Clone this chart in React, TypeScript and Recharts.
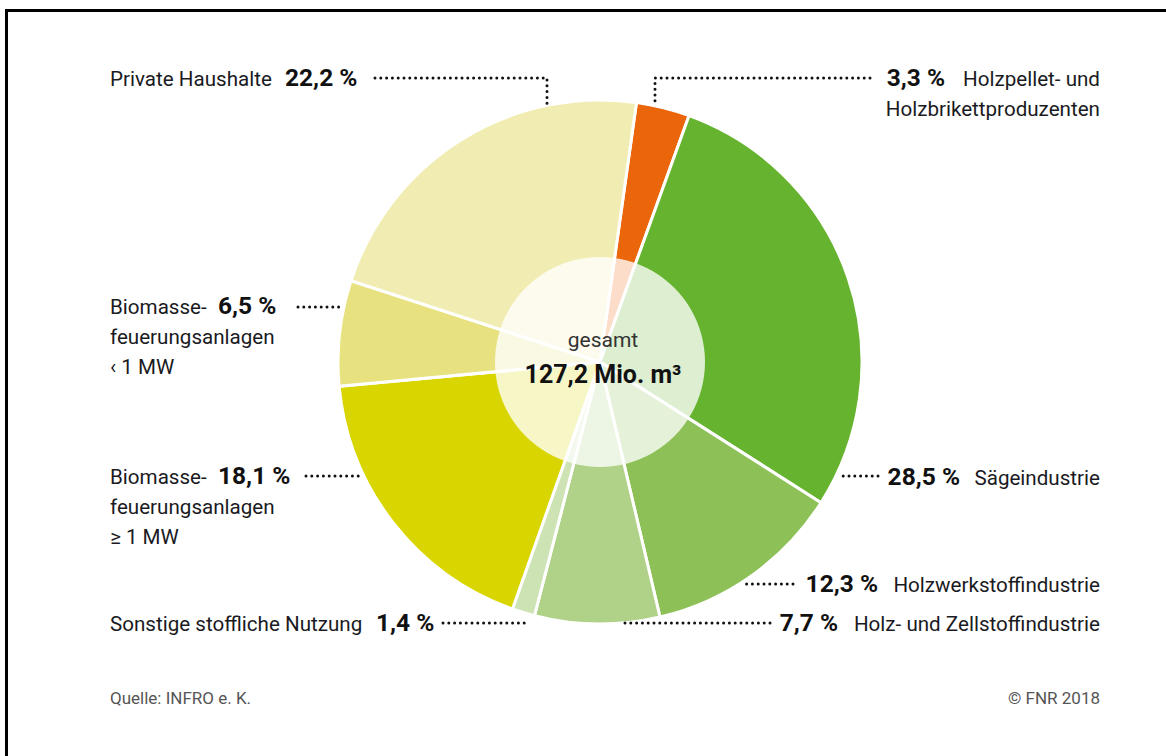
import { PieChart, Pie, Cell } from 'recharts'

// Holzverwendung nach Sektoren, Anteile in %
const categories = [
  'Holzpellet- und Holzbrikettproduzenten',
  'Sägeindustrie',
  'Holzwerkstoffindustrie',
  'Holz- und Zellstoffindustrie',
  'Sonstige stoffliche Nutzung',
  'Biomassefeuerungsanlagen ≥ 1 MW',
  'Biomassefeuerungsanlagen < 1 MW',
  'Private Haushalte',
]
const shares = [3.3, 28.5, 12.3, 7.7, 1.4, 18.1, 6.5, 22.2]
const shareLabels = ['3,3 %', '28,5 %', '12,3 %', '7,7 %', '1,4 %', '18,1 %', '6,5 %', '22,2 %']
const colors = ['#EB660A', '#66B32F', '#8DC157', '#AFD288', '#CDE3B4', '#D8D500', '#E7E27F', '#F1EDB2']

const totalLabel = 'gesamt'
const totalValue = '127,2 Mio. m³'

const FONT = "Roboto, 'Liberation Sans', Arial, sans-serif"

const pieData = categories.map((name, i) => ({ name, value: shares[i], label: shareLabels[i] }))
const centerData = [{ name: totalLabel, value: 127.2 }]

type Side = 'left' | 'right'
interface LabelLayout {
  side: Side
  lines: string[]
  baseY: number
  pctX: number
  dotY: number
  dotFrom: number
  dotTo?: number // fixed end; otherwise up to the pie edge
  elbowX?: number // horizontal, then down to the top of the pie
}

// text placement for each slice (index matches categories)
const layouts: LabelLayout[] = [
  { side: 'right', lines: ['Holzpellet- und', 'Holzbrikettproduzenten'], baseY: 86, pctX: 945, dotY: 78, dotFrom: 870, elbowX: 655 },
  { side: 'right', lines: ['Sägeindustrie'], baseY: 485, pctX: 960, dotY: 476, dotFrom: 878 },
  { side: 'right', lines: ['Holzwerkstoffindustrie'], baseY: 592, pctX: 878, dotY: 584, dotFrom: 793 },
  { side: 'right', lines: ['Holz- und Zellstoffindustrie'], baseY: 631, pctX: 838, dotY: 623, dotFrom: 770, dotTo: 622 },
  { side: 'left', lines: ['Sonstige stoffliche Nutzung'], baseY: 631, pctX: 376, dotY: 623, dotFrom: 443, dotTo: 528 },
  { side: 'left', lines: ['Biomasse-', 'feuerungsanlagen', '≥ 1 MW'], baseY: 484, pctX: 218, dotY: 476, dotFrom: 306 },
  { side: 'left', lines: ['Biomasse-', 'feuerungsanlagen', '‹ 1 MW'], baseY: 314, pctX: 218, dotY: 307, dotFrom: 298 },
  { side: 'left', lines: ['Private Haushalte'], baseY: 86, pctX: 285, dotY: 78, dotFrom: 375, elbowX: 547 },
]

const dotStyle = {
  stroke: '#111',
  strokeWidth: 3,
  strokeDasharray: '0 5.8',
  strokeLinecap: 'round' as const,
  fill: 'none',
}

const renderLabel = (props: any) => {
  const { cx, cy, outerRadius, index } = props
  const l = layouts[index]
  if (!l) return null
  const r = outerRadius + 2
  let path: string
  if (l.elbowX !== undefined) {
    const yTop = cy - Math.sqrt(r * r - (l.elbowX - cx) ** 2)
    path = `M${l.dotFrom},${l.dotY} L${l.elbowX},${l.dotY} L${l.elbowX},${yTop}`
  } else {
    const dx = Math.sqrt(Math.max(0, r * r - (l.dotY - cy) ** 2))
    const edge = l.side === 'right' ? cx + dx : cx - dx
    path = `M${l.dotFrom},${l.dotY} L${l.dotTo ?? edge},${l.dotY}`
  }
  const left = l.side === 'left'
  return (
    <g key={`lbl-${index}`}>
      <path d={path} {...dotStyle} />
      {l.lines.map((t, k) => (
        <text
          key={k}
          x={left ? 110 : 1100}
          y={l.baseY + k * 30}
          textAnchor={left ? 'start' : 'end'}
          fontFamily={FONT}
          fontSize={20.6}
          fill="#1a1a22"
        >
          {t}
        </text>
      ))}
      <text
        x={l.pctX}
        y={l.baseY}
        textAnchor={left ? 'start' : 'end'}
        fontFamily={FONT}
        fontSize={24.5}
        fontWeight={700}
        fill="#111"
      >
        {shareLabels[index]}
      </text>
    </g>
  )
}

const renderCenter = (props: any) => {
  const { cx, cy } = props
  return (
    <g>
      <text x={cx + 3} y={cy - 15} textAnchor="middle" fontFamily={FONT} fontSize={21} fill="#333">
        {totalLabel}
      </text>
      <text x={cx + 3} y={cy + 21} textAnchor="middle" fontFamily={FONT} fontSize={25} fontWeight={700} fill="#111">
        {totalValue}
      </text>
    </g>
  )
}

export default function App() {
  return (
    <div style={{ position: 'absolute', left: 0, top: 0, width: 1166, height: 756, background: '#fff', overflow: 'hidden' }}>
      <div
        style={{
          position: 'absolute',
          left: 5,
          top: 9,
          width: 1200,
          height: 800,
          borderTop: '3px solid #000',
          borderLeft: '3px solid #000',
        }}
      />
      <div style={{ position: 'absolute', left: 0, top: 0 }}>
        <PieChart width={1166} height={756} margin={{ top: 0, right: 0, bottom: 0, left: 0 }}>
          <Pie
            data={pieData}
            dataKey="value"
            nameKey="name"
            cx={600}
            cy={362}
            outerRadius={262}
            startAngle={82}
            endAngle={-278}
            stroke="#fff"
            strokeWidth={3}
            label={renderLabel}
            labelLine={false}
            isAnimationActive={false}
          >
            {pieData.map((d, i) => (
              <Cell key={d.name} fill={colors[i]} />
            ))}
          </Pie>
          <Pie
            data={centerData}
            dataKey="value"
            cx={600}
            cy={362}
            outerRadius={105}
            stroke="none"
            fill="#fff"
            fillOpacity={0.78}
            label={renderCenter}
            labelLine={false}
            isAnimationActive={false}
          />
        </PieChart>
      </div>
      <div style={{ position: 'absolute', left: 110, top: 688, fontFamily: FONT, fontSize: 17, color: '#555' }}>
        Quelle: INFRO e. K.
      </div>
      <div style={{ position: 'absolute', right: 66, top: 688, fontFamily: FONT, fontSize: 17, color: '#555' }}>
        © FNR 2018
      </div>
    </div>
  )
}
